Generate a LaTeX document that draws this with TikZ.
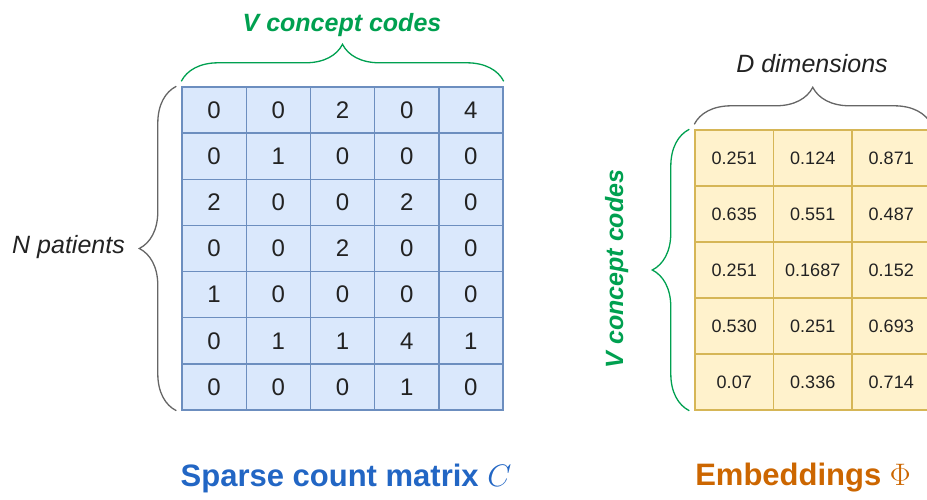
\documentclass[tikz,border=0pt]{standalone}
\usepackage{fontspec}
\setmainfont{Liberation Sans}
\usetikzlibrary{decorations.pathreplacing}
\definecolor{cblue}{HTML}{DAE8FC}
\definecolor{sblue}{HTML}{6C8EBF}
\definecolor{cyel}{HTML}{FFF2CC}
\definecolor{syel}{HTML}{D6B656}
\definecolor{tgreen}{HTML}{00A050}
\definecolor{tblue}{HTML}{2266C4}
\definecolor{torange}{HTML}{CC6600}
\definecolor{bgray}{HTML}{666666}
\definecolor{tdark}{HTML}{222222}
\begin{document}
\begin{tikzpicture}[x=1pt,y=-1pt,
  lcell/.style={draw=sblue,fill=cblue,line width=1.4pt,minimum width=64.2pt,minimum height=46.14pt,inner sep=0pt,text=tdark,font=\fontsize{24}{28}\selectfont},
  rcell/.style={draw=syel,fill=cyel,line width=1.4pt,minimum width=78.5pt,minimum height=56pt,inner sep=0pt,text=tdark,font=\fontsize{18}{22}\selectfont},
  gbrace/.style={draw=tgreen,line width=1.3pt,decorate,decoration={brace,amplitude=37pt}},
  kbrace/.style={draw=bgray,line width=1.3pt,decorate,decoration={brace,amplitude=37pt}},
  glabel/.style={text=tgreen,font=\bfseries\itshape\fontsize{25}{30}\selectfont,inner sep=0pt},
  klabel/.style={text=tdark,font=\itshape\fontsize{25}{30}\selectfont,inner sep=0pt},
  title/.style={font=\bfseries\fontsize{31}{36}\selectfont,inner sep=0pt}]
\useasboundingbox (0,0) rectangle (927,500);
\clip (0,0) rectangle (927,500);
% left matrix
\foreach \v [count=\k from 0] in {0,0,2,0,4, 0,1,0,0,0, 2,0,0,2,0, 0,0,2,0,0, 1,0,0,0,0, 0,1,1,4,1, 0,0,0,1,0} {
  \pgfmathtruncatemacro{\r}{\k/5}
  \pgfmathtruncatemacro{\c}{\k-5*\r}
  \node[lcell] (c-\r-\c) at ({182+64.2*(\c+0.5)},{87+46.14*(\r+0.5)}) {\v};
}
% right matrix
\foreach \v [count=\k from 0] in {0.251,0.124,0.871, 0.635,0.551,0.487, 0.251,0.1687,0.152, 0.530,0.251,0.693, 0.07,0.336,0.714} {
  \pgfmathtruncatemacro{\r}{\k/3}
  \pgfmathtruncatemacro{\c}{\k-3*\r}
  \node[rcell] (e-\r-\c) at ({695+78.5*(\c+0.5)},{130+56*(\r+0.5)}) {\v};
}
% braces
\draw[gbrace] ([yshift=5pt]c-0-0.north west) -- ([yshift=5pt]c-0-4.north east);
\draw[kbrace] ([xshift=-5pt]c-6-0.south west) -- ([xshift=-5pt]c-0-0.north west);
\draw[kbrace] ([yshift=5pt]e-0-0.north west) -- ([yshift=5pt]e-0-2.north east);
\draw[gbrace] ([xshift=-5pt]e-4-0.south west) -- ([xshift=-5pt]e-0-0.north west);
% labels
\node[glabel,anchor=base] (vtop) at (342,32) {V concept codes};
\node[klabel,anchor=base east] (np) at (125,253) {N patients};
\node[klabel,anchor=base] (dd) at (812,73) {D dimensions};
\node[glabel,anchor=base,rotate=90] (vside) at (623,269) {V concept codes};
\node[title,text=tblue] (t1) at (346,478) {Sparse count matrix \scalebox{1.25}{$C$}};
\node[title,text=torange] (t2) at (803,478) {Embeddings \scalebox{1.25}{$\Phi$}};
\end{tikzpicture}
\end{document}
